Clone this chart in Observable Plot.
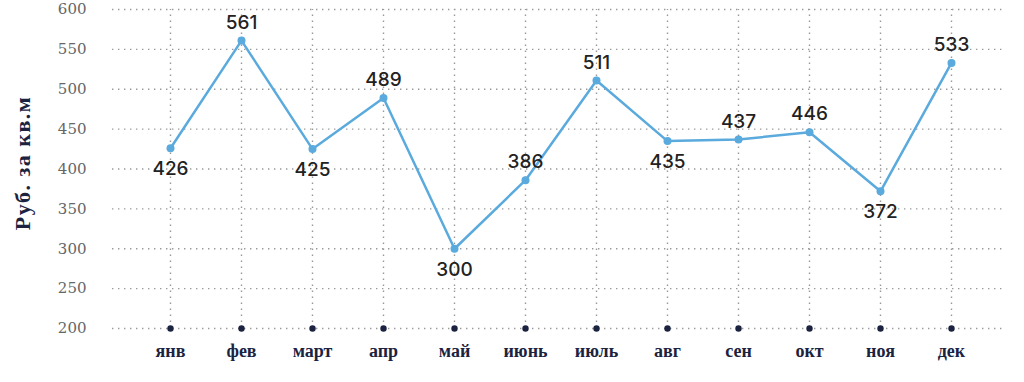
<!DOCTYPE html>
<html><head><meta charset="utf-8">
<script src="https://cdn.jsdelivr.net/npm/d3@7"></script>
<script src="https://cdn.jsdelivr.net/npm/@observablehq/plot@0.6"></script>
<style>body{margin:0;background:#fff}svg{display:block;overflow:visible}</style>
</head><body><div id="chart"></div>
<script>
const months = ["янв","фев","март","апр","май","июнь","июль","авг","сен","окт","ноя","дек"];
const values = [426,561,425,489,300,386,511,435,437,446,372,533];
const yTicks = [200,250,300,350,400,450,500,550,600];
const yTitle = "Руб. за кв.м";

const data = months.map((m,i)=>{
  const prev = i>0 ? values[i-1] : Infinity;
  const next = i<values.length-1 ? values[i+1] : Infinity;
  const below = values[i] < prev && values[i] < next;
  return {m, v: values[i], below};
});

const chart = Plot.plot({
  width: 1024, height: 382,
  marginLeft: 112, marginRight: 21, marginTop: 9, marginBottom: 54,
  x: {type: "point", domain: months, range: [168, 952], padding: 0, label: null},
  y: {domain: [200, 600], label: null},
  style: {fontFamily: "Inter, sans-serif", background: "#fff"},
  marks: [
    Plot.ruleY(yTicks, {stroke: "#999", strokeWidth: 1.4, strokeDasharray: "1.4,4.6"}),
    Plot.ruleX(months, {x: d=>d, y1: 200, y2: 600, stroke: "#999", strokeWidth: 1.4, strokeDasharray: "1.4,4.6"}),
    Plot.dot(months, {x: d=>d, y: 200, r: 3.2, fill: "#1b2340", stroke: null}),
    Plot.line(data, {x: "m", y: "v", stroke: "#5aaadd", strokeWidth: 2.5}),
    Plot.dot(data, {x: "m", y: "v", r: 4, fill: "#5aaadd", stroke: null}),
    Plot.text(data.filter(d=>!d.below), {x: "m", y: "v", text: d=>String(d.v), dy: -18, fontSize: 19, fill: "#222", fontFamily: "Inter, sans-serif", fontWeight: 500}),
    Plot.text(data.filter(d=>d.below), {x: "m", y: "v", text: d=>String(d.v), dy: 21, fontSize: 19, fill: "#222", fontFamily: "Inter, sans-serif", fontWeight: 500}),
    Plot.axisY(yTicks, {ticks: yTicks, tickSize: 0, tickPadding: 26, fontSize: 15, fill: "#666", label: null, fontFamily: "'DejaVu Serif', serif"}),
    Plot.axisX(months, {tickSize: 0, tickPadding: 16, fontSize: 18, fill: "#1b2340", fontWeight: "bold", fontFamily: "'Liberation Serif', serif", label: null}),
    Plot.text([yTitle], {frameAnchor: "left", textAnchor: "middle", dx: -90, dy: -6, text: d=>d, rotate: -90, fontSize: 22, fontWeight: "bold", fill: "#1b2340", fontFamily: "'Liberation Serif', serif"})
  ]
});
chart.querySelectorAll("text").forEach(t=>{ if (t.textContent===yTitle) t.style.letterSpacing="1.5px"; });
document.getElementById("chart").append(chart);
</script>
</body></html>
